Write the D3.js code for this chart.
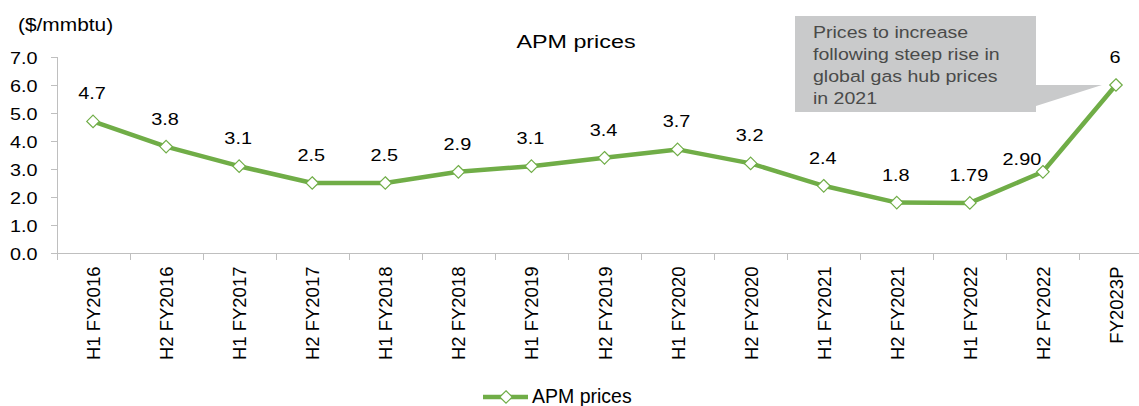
<!DOCTYPE html>
<html lang="en">
	<head>
		<meta charset="utf-8">
		<title>APM prices</title>
		<script type="text/javascript" src="https://cdn.jsdelivr.net/npm/d3@7"></script>
		<style type="text/css">
			body { margin: 0; background: white; }
			svg text { font-family: "Liberation Sans", Arial, sans-serif; fill: #000; }
			.axis path, .axis line { fill: none; stroke: #bfbfbf; shape-rendering: crispEdges; }
		</style>
	</head>
	<body>
	<script type="text/javascript">

		var w = 1139;
		var h = 406;

		// data
		var categories = ["H1 FY2016","H2 FY2016","H1 FY2017","H2 FY2017","H1 FY2018","H2 FY2018","H1 FY2019","H2 FY2019",
				"H1 FY2020","H2 FY2020","H1 FY2021","H2 FY2021","H1 FY2022","H2 FY2022","FY2023P"];
		var prices = [4.7, 3.8, 3.1, 2.5, 2.5, 2.9, 3.1, 3.4, 3.7, 3.2, 2.4, 1.8, 1.79, 2.90, 6];
		var priceLabels = ["4.7","3.8","3.1","2.5","2.5","2.9","3.1","3.4","3.7","3.2","2.4","1.8","1.79","2.90","6"];
		var yTicks = [0, 1, 2, 3, 4, 5, 6, 7];
		var calloutLines = ["Prices to increase", "following steep rise in", "global gas hub prices", "in 2021"];

		var green = "#70ad47";

		var xScale = d3.scaleBand().domain(categories).range([56.5, 1152.5]);
		var yScale = d3.scaleLinear().domain([0, 7]).range([253, 57]);
		var cx = function(i) { return xScale(categories[i]) + xScale.bandwidth() / 2; };

		var svg = d3.select("body").append("svg").attr("width", w).attr("height", h);

		// the reference font is wider than Arial, so stretch horizontal text a bit
		var wideText = function(sel, x, y, k) {
			return sel.attr("transform", "translate(" + x + "," + y + ") scale(" + k + ",1)");
		};

		// y axis
		var yAxis = d3.axisLeft(yScale).tickValues(yTicks).tickFormat(d3.format(".1f")).tickSize(6).tickPadding(0);
		var yg = svg.append("g").attr("class", "axis").attr("transform", "translate(56.5,0)").call(yAxis);
		yg.selectAll("text").remove();
		yg.selectAll(".tick").append("text")
			.attr("transform", "translate(-19,6) scale(1.2,1)")
			.attr("text-anchor", "end")
			.style("font-size", "16.5px")
			.text(function(d) { return d3.format(".1f")(d); });

		// x axis - ticks between categories
		var xg = svg.append("g").attr("class", "axis").attr("transform", "translate(0,253.5)");
		xg.append("line").attr("x1", 56.5).attr("x2", w).attr("y1", 0).attr("y2", 0);
		xg.selectAll("line.tk").data(categories).enter().append("line").attr("class", "tk")
			.attr("x1", function(d) { return Math.round(xScale(d)) + 0.5; })
			.attr("x2", function(d) { return Math.round(xScale(d)) + 0.5; })
			.attr("y1", 0).attr("y2", 6);
		xg.selectAll("text").data(categories).enter().append("text")
			.attr("transform", function(d) { return "translate(" + (xScale(d) + xScale.bandwidth() / 2 + 7) + ",13) rotate(-90)"; })
			.attr("text-anchor", "end")
			.style("font-size", "18.5px")
			.text(function(d) { return d; });

		// line
		var line = d3.line()
			.x(function(d, i) { return cx(i); })
			.y(function(d) { return yScale(d); });
		svg.append("path").datum(prices).attr("d", line)
			.attr("fill", "none").attr("stroke", green).attr("stroke-width", 4.5).attr("stroke-linejoin", "round");

		var diamond = d3.symbol().type(d3.symbolDiamond2).size(100);
		svg.selectAll("path.pt").data(prices).enter().append("path").attr("class", "pt")
			.attr("d", diamond)
			.attr("transform", function(d, i) { return "translate(" + cx(i) + "," + yScale(d) + ")"; })
			.attr("fill", "white").attr("stroke", green).attr("stroke-width", 1.2);

		// data labels (the 2.90 label sits to the left of its point)
		svg.selectAll("text.lbl").data(prices).enter().append("text").attr("class", "lbl")
			.attr("transform", function(d, i) {
				var x = cx(i) + (i === 13 ? -21 : -1);
				var y = yScale(d) - (i === 13 ? 7 : 22);
				return "translate(" + x + "," + y + ") scale(1.17,1)";
			})
			.attr("text-anchor", "middle")
			.style("font-size", "17px")
			.text(function(d, i) { return priceLabels[i]; });

		// title and unit
		wideText(svg.append("text"), 576, 48, 1.26).attr("text-anchor", "middle").style("font-size", "18.5px").text("APM prices");
		wideText(svg.append("text"), 18, 31, 1.16).style("font-size", "18px").text("($/mmbtu)");

		// callout
		var tipX = cx(14) - 14;
		var tipY = yScale(prices[14]);
		svg.append("path")
			.attr("d", "M795,16 L1036,16 L1036,85 L" + tipX + "," + tipY + " L1036,106 L1036,112 L795,112 Z")
			.attr("fill", "#c9cacb");
		svg.append("g").selectAll("text").data(calloutLines).enter().append("text")
			.attr("transform", function(d, i) { return "translate(813," + (37.5 + i * 22) + ") scale(1.15,1)"; })
			.style("font-size", "17px").style("fill", "#4a4a4a")
			.text(function(d) { return d; });

		// legend
		var lg = svg.append("g").attr("transform", "translate(483,397)");
		lg.append("line").attr("x1", 0).attr("x2", 45).attr("y1", 0).attr("y2", 0).attr("stroke", green).attr("stroke-width", 4.5);
		lg.append("path").attr("d", diamond).attr("transform", "translate(23,0)").attr("fill", "white").attr("stroke", green).attr("stroke-width", 1.2);
		lg.append("text").attr("x", 49).attr("y", 6).style("font-size", "19.5px").text("APM prices");

	</script>
	</body>
</html>
